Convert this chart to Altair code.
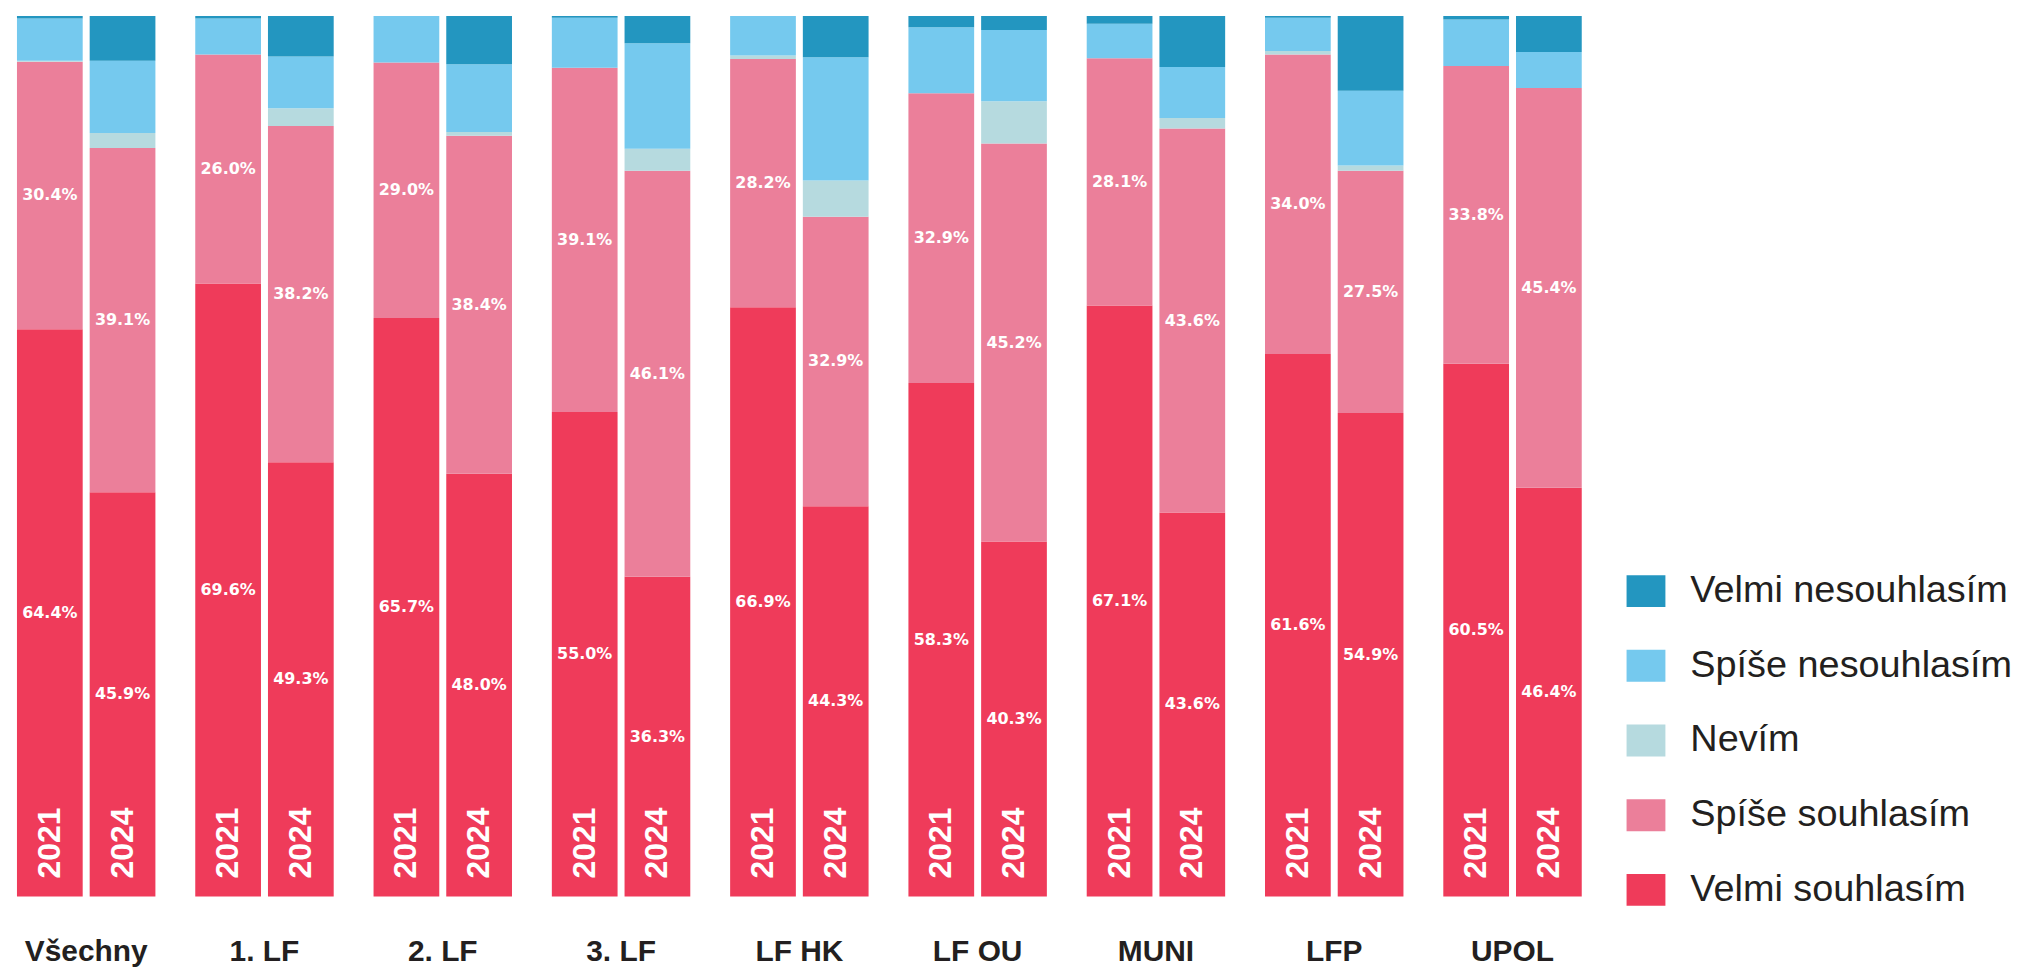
import altair as alt
import pandas as pd

groups = ["Všechny", "1. LF", "2. LF", "3. LF", "LF HK", "LF OU", "MUNI", "LFP", "UPOL"]
years = ["2021", "2024"]
categories = ["Velmi nesouhlasím", "Spíše nesouhlasím", "Nevím", "Spíše souhlasím", "Velmi souhlasím"]
colors = ["#2396C0", "#75C9EE", "#B6DADF", "#EB7F9A", "#EF3B5A"]

# values in (group, year) order: 2021, 2024 for each group
velmi_souhlasim = [64.4, 45.9, 69.6, 49.3, 65.7, 48.0, 55.0, 36.3, 66.9, 44.3, 58.3, 40.3, 67.1, 43.6, 61.6, 54.9, 60.5, 46.4]
spise_souhlasim = [30.4, 39.1, 26.0, 38.2, 29.0, 38.4, 39.1, 46.1, 28.2, 32.9, 32.9, 45.2, 28.1, 43.6, 34.0, 27.5, 33.8, 45.4]
nevim = [0.1, 1.7, 0.0, 2.0, 0.0, 0.4, 0.0, 2.5, 0.4, 4.1, 0.0, 4.8, 0.0, 1.2, 0.4, 0.6, 0.0, 0.0]
spise_nesouhlasim = [4.8, 8.2, 4.1, 5.9, 5.3, 7.7, 5.7, 12.0, 4.5, 14.0, 7.5, 8.1, 3.9, 5.8, 3.8, 8.5, 5.3, 4.1]
velmi_nesouhlasim = [0.3, 5.1, 0.3, 4.6, 0.0, 5.5, 0.2, 3.1, 0.0, 4.7, 1.3, 1.6, 0.9, 5.8, 0.2, 8.5, 0.4, 4.1]

series = {
    "Velmi souhlasím": velmi_souhlasim,
    "Spíše souhlasím": spise_souhlasim,
    "Nevím": nevim,
    "Spíše nesouhlasím": spise_nesouhlasim,
    "Velmi nesouhlasím": velmi_nesouhlasim,
}
stack_order = ["Velmi souhlasím", "Spíše souhlasím", "Nevím", "Spíše nesouhlasím", "Velmi nesouhlasím"]

rows = []
for gi, g in enumerate(groups):
    for yi, yr in enumerate(years):
        for oi, cat in enumerate(stack_order):
            rows.append({
                "group": g, "year": yr, "cat": cat, "order": oi,
                "value": series[cat][gi * 2 + yi],
            })
df = pd.DataFrame(rows)

base = alt.Chart(df).transform_stack(
    stack="value", as_=["y0", "y1"], groupby=["group", "year"],
    sort=[alt.SortField("order", order="ascending")],
).transform_calculate(
    mid="(datum.y0 + datum.y1) / 2",
    lab="format(datum.value, '.1f') + '%'",
    zero="0",
)

x_enc = alt.X("group:N", sort=groups, title=None,
              scale=alt.Scale(paddingInner=0.2235, paddingOuter=0),
              axis=alt.Axis(domain=False, ticks=False, labelAngle=0,
                            labelFont="Liberation Sans", labelFontWeight="bold",
                            labelFontSize=30, labelColor="#231F20",
                            labelBaseline="alphabetic", labelPadding=64))
xo_enc = alt.XOffset("year:N", sort=years, scale=alt.Scale(paddingInner=0.096, paddingOuter=0))
y_scale = alt.Scale(domain=[0, 100], nice=False, zero=True)

bars = base.mark_bar(strokeWidth=0).encode(
    x=x_enc,
    xOffset=xo_enc,
    y=alt.Y("y0:Q", scale=y_scale, axis=None),
    y2="y1:Q",
    color=alt.Color("cat:N", scale=alt.Scale(domain=categories, range=colors),
                    legend=alt.Legend(title=None)),
)

pct = base.transform_filter(
    alt.FieldOneOfPredicate(field="cat", oneOf=["Velmi souhlasím", "Spíše souhlasím"])
).mark_text(font="DejaVu Sans", fontWeight="bold", fontSize=16, color="white",
            align="center", baseline="middle").encode(
    x=alt.X("group:N", sort=groups),
    xOffset=xo_enc,
    y=alt.Y("mid:Q", scale=y_scale),
    text="lab:N",
)

yr = base.transform_filter(alt.datum.cat == "Velmi souhlasím").mark_text(
    font="Liberation Sans", fontWeight="bold", fontSize=32, color="white",
    angle=270, align="left", baseline="middle").encode(
    x=alt.X("group:N", sort=groups),
    xOffset=xo_enc,
    y=alt.Y("zero:Q", scale=y_scale),
    yOffset=alt.value(-18),
    text="year:N",
)

chart = alt.layer(bars, pct, yr).properties(
    width=1571, height=884,
    padding={"left": 9, "top": 6, "right": 440, "bottom": 70},
    autosize=alt.AutoSizeParams(type="none"),
).configure_view(stroke=None).configure_legend(
    orient="none", legendX=1616, legendY=558, padding=0,
    symbolType="M-1,-0.82H1V0.82H-1Z", symbolSize=1521, symbolStrokeWidth=0,
    symbolOpacity=1,
    labelFont="Liberation Sans", labelFontSize=38, labelColor="#231F20",
    labelOffset=25, rowPadding=36, labelLimit=500,
)

chart.save("out.html", embed_options={"renderer": "svg", "actions": False})
